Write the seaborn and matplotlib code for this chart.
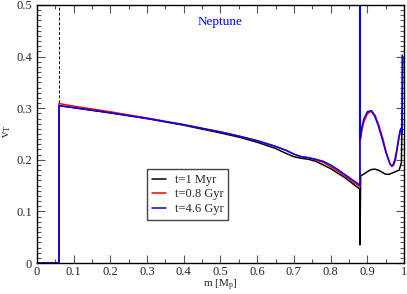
import numpy as np
import pandas as pd
import seaborn as sns
import matplotlib.pyplot as plt
from matplotlib.ticker import MultipleLocator, FormatStrFormatter

# t = 1 Myr
m_black = [0, 0.06, 0.06, 0.1, 0.2, 0.3, 0.4, 0.5, 0.55, 0.6, 0.65, 0.68, 0.7, 0.72, 0.74,
           0.76, 0.78, 0.8, 0.82, 0.84, 0.86, 0.88, 0.88, 0.882, 0.89, 0.9, 0.91, 0.92, 0.93,
           0.94, 0.95, 0.96, 0.97, 0.98, 0.987, 0.993, 0.997]
v_black = [0, 0, 0.305, 0.301, 0.291, 0.28, 0.267, 0.252, 0.244, 0.234, 0.222, 0.212, 0.206,
           0.203, 0.201, 0.197, 0.19, 0.183, 0.174, 0.165, 0.154, 0.143, 0.035, 0.169, 0.172,
           0.177, 0.181, 0.182, 0.18, 0.176, 0.172, 0.172, 0.175, 0.178, 0.18, 0.195, 0.4]

# t = 0.8 Gyr
m_red = [0, 0.06, 0.06, 0.1, 0.2, 0.3, 0.4, 0.5, 0.55, 0.6, 0.65, 0.68, 0.7, 0.72, 0.74,
         0.76, 0.78, 0.8, 0.82, 0.84, 0.86, 0.88, 0.88, 0.881, 0.885, 0.89, 0.9, 0.912, 0.922,
         0.932, 0.942, 0.952, 0.962, 0.967, 0.972, 0.977, 0.981, 0.986, 0.99, 0.993, 0.995]
v_red = [0, 0, 0.309, 0.304, 0.293, 0.281, 0.268, 0.254, 0.246, 0.237, 0.226, 0.218, 0.211,
         0.206, 0.204, 0.2, 0.195, 0.187, 0.178, 0.168, 0.158, 0.148, 0.6, 0.238, 0.256,
         0.272, 0.289, 0.295, 0.285, 0.266, 0.242, 0.214, 0.192, 0.187, 0.19, 0.2, 0.218,
         0.24, 0.257, 0.26, 0.25]

# t = 4.6 Gyr
m_blue = [0, 0.06, 0.06, 0.1, 0.2, 0.3, 0.4, 0.5, 0.55, 0.6, 0.65, 0.68, 0.7, 0.72, 0.74,
          0.76, 0.78, 0.8, 0.82, 0.84, 0.86, 0.88, 0.88, 0.881, 0.885, 0.89, 0.9, 0.91, 0.92,
          0.93, 0.94, 0.95, 0.96, 0.965, 0.97, 0.975, 0.98, 0.985, 0.99, 0.993, 0.995, 0.995]
v_blue = [0, 0, 0.305, 0.301, 0.291, 0.28, 0.268, 0.254, 0.246, 0.237, 0.226, 0.218, 0.211,
          0.206, 0.204, 0.201, 0.197, 0.19, 0.181, 0.171, 0.161, 0.151, 0.6, 0.242, 0.262,
          0.278, 0.293, 0.295, 0.285, 0.266, 0.242, 0.216, 0.195, 0.189, 0.19, 0.2, 0.218,
          0.24, 0.258, 0.262, 0.25, 0.403]

labels = ["t=1 Myr", "t=0.8 Gyr", "t=4.6 Gyr"]
colors = ["black", "red", "blue"]

frames = []
for lab, m, v in zip(labels, [m_black, m_red, m_blue], [v_black, v_red, v_blue]):
    d = pd.DataFrame({"m": m, "v": v})
    d["series"] = lab
    frames.append(d)
df = pd.concat(frames, ignore_index=True)

sns.set_style("ticks")
plt.rcParams['font.family'] = ['Liberation Serif', 'DejaVu Serif']
plt.rcParams['mathtext.fontset'] = 'custom'
plt.rcParams['mathtext.rm'] = 'Liberation Serif'
plt.rcParams['mathtext.it'] = 'Liberation Serif:italic'

fig = plt.figure(figsize=(4.07, 2.94), dpi=100)
ax = fig.add_axes([0.0909, 0.1054, 0.9017, 0.8776])

ax.axvline(0.06, color='black', ls=(0, (3, 2)), lw=0.7)
sns.lineplot(data=df, x="m", y="v", hue="series", hue_order=labels, palette=colors,
             units="series", estimator=None, sort=False, lw=1.1, ax=ax)

ax.set_xlim(0, 1)
ax.set_ylim(0, 0.5)
ax.xaxis.set_major_locator(MultipleLocator(0.1))
ax.xaxis.set_minor_locator(MultipleLocator(0.05))
ax.yaxis.set_major_locator(MultipleLocator(0.1))
ax.yaxis.set_minor_locator(MultipleLocator(0.01))
ax.xaxis.set_major_formatter(FormatStrFormatter('%g'))
ax.yaxis.set_major_formatter(FormatStrFormatter('%g'))
ax.tick_params(which='both', direction='in', top=True, right=True, labelsize=9, color='#555555')
ax.tick_params(which='major', length=6, width=0.8)
ax.tick_params(which='minor', length=3, width=0.8)
ax.tick_params(axis='x', pad=2.5)
for s in ax.spines.values():
    s.set_linewidth(1.0)
    s.set_color('black')

ax.set_xlabel("m [M$_\\mathrm{p}$]", fontsize=8)
ax.set_ylabel("v$_\\mathrm{T}$", fontsize=9)
ax.xaxis.set_label_coords(0.5, -0.058)
ax.yaxis.set_label_coords(-0.065, 0.51)
ax.text(0.5, 0.467, "Neptune", color='blue', fontsize=9.5, ha='center', va='center')

ax.legend(loc='lower left', bbox_to_anchor=(0.3, 0.167), fontsize=9, frameon=True,
          fancybox=False, edgecolor='#444444', framealpha=1, handlelength=1.1,
          borderpad=0.4, labelspacing=0.2, handletextpad=0.7, borderaxespad=0)

fig.savefig("out.png", dpi=100)
